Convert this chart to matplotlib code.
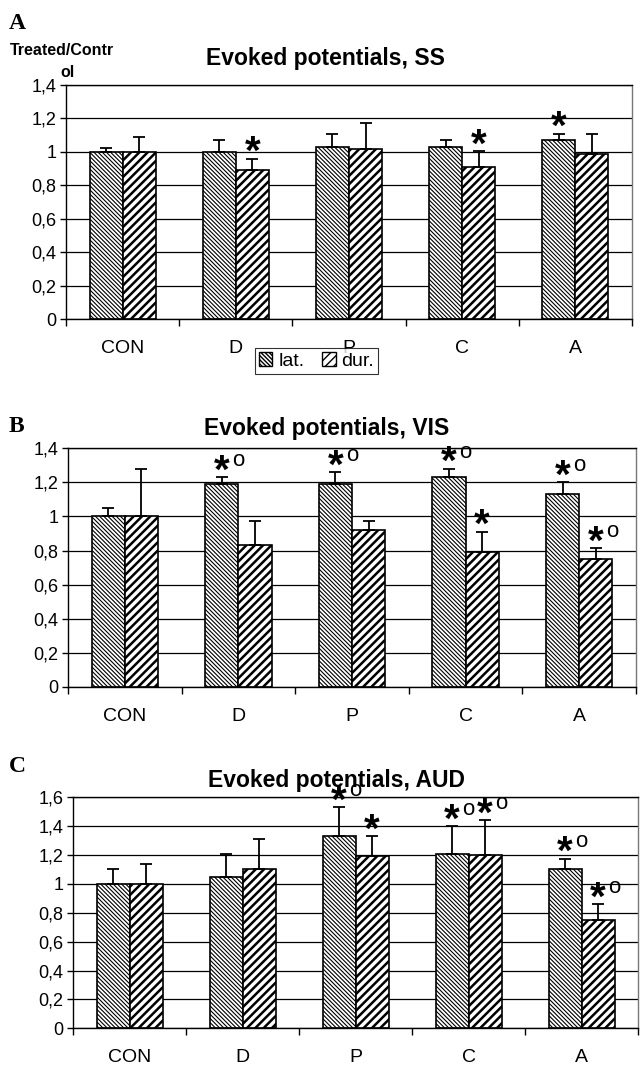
import matplotlib
matplotlib.use("Agg")
import numpy as np
import matplotlib.pyplot as plt
from matplotlib.patches import Patch
from matplotlib.ticker import FuncFormatter, FixedLocator

plt.rcParams["font.family"] = ["Liberation Sans", "DejaVu Sans"]

categories = ["CON", "D", "P", "C", "A"]

# panel A - SS
lat_ss = [1.00, 1.00, 1.03, 1.03, 1.07]
lat_ss_err = [0.025, 0.07, 0.08, 0.04, 0.04]
dur_ss = [1.00, 0.89, 1.02, 0.91, 0.99]
dur_ss_err = [0.09, 0.07, 0.15, 0.095, 0.12]
lat_ss_sig = ["", "", "", "", "*"]
dur_ss_sig = ["", "*", "", "*", ""]

# panel B - VIS
lat_vis = [1.00, 1.19, 1.19, 1.23, 1.13]
lat_vis_err = [0.05, 0.04, 0.07, 0.05, 0.07]
dur_vis = [1.00, 0.83, 0.92, 0.79, 0.75]
dur_vis_err = [0.28, 0.145, 0.055, 0.12, 0.065]
lat_vis_sig = ["", "*o", "*o", "*o", "*o"]
dur_vis_sig = ["", "", "", "*", "*o"]

# panel C - AUD
lat_aud = [1.00, 1.05, 1.33, 1.21, 1.10]
lat_aud_err = [0.10, 0.16, 0.20, 0.19, 0.075]
dur_aud = [1.00, 1.10, 1.19, 1.20, 0.75]
dur_aud_err = [0.14, 0.21, 0.14, 0.24, 0.11]
lat_aud_sig = ["", "", "*o", "*o", "*o"]
dur_aud_sig = ["", "", "*", "*o", "*o"]

LAT_HATCH = "\\" * 8
DUR_HATCH = "////"
BW = 0.292

fig = plt.figure(figsize=(6.4, 10.67), dpi=100)
fmt = FuncFormatter(lambda v, p: ("%g" % round(v, 2)).replace(".", ","))


def bars(ax, x, vals, hatch, hlw):
    with plt.rc_context({"hatch.linewidth": hlw, "hatch.color": "black"}):
        cont = ax.bar(x, vals, BW, color="white", edgecolor="black",
                      linewidth=1.2, hatch=hatch, zorder=2)
        for b in cont:
            if hasattr(b, "set_hatch_linewidth"):
                b.set_hatch_linewidth(hlw)
    return cont


def marks(ax, x, tops, sig):
    for xi, t, s in zip(x, tops, sig):
        if not s:
            continue
        ax.annotate("*", xy=(xi, t), xytext=(0, 4), textcoords="offset points",
                    ha="center", va="center", fontsize=29, fontweight="bold",
                    annotation_clip=False, zorder=5)
        if "o" in s:
            ax.annotate("o", xy=(xi, t), xytext=(12, 12), textcoords="offset points",
                        ha="center", va="center", fontsize=16,
                        annotation_clip=False, zorder=5)


def panel(rect, lat, lat_err, dur, dur_err, lat_sig, dur_sig, ymax):
    ax = fig.add_axes(rect)
    n = len(categories)
    xc = np.arange(n) + 0.5
    xl = xc - BW / 2
    xd = xc + BW / 2
    bars(ax, xl, lat, LAT_HATCH, 0.8)
    bars(ax, xd, dur, DUR_HATCH, 1.8)
    z = np.zeros(n)
    ax.errorbar(xl, lat, yerr=[z, lat_err], fmt="none", ecolor="black",
                elinewidth=1.3, capsize=4, capthick=1.3, zorder=3)
    ax.errorbar(xd, dur, yerr=[z, dur_err], fmt="none", ecolor="black",
                elinewidth=1.3, capsize=4, capthick=1.3, zorder=3)
    marks(ax, xl, np.array(lat) + np.array(lat_err), lat_sig)
    marks(ax, xd, np.array(dur) + np.array(dur_err), dur_sig)

    ax.set_xlim(0, n)
    ax.set_ylim(0, ymax)
    ax.set_yticks(np.arange(0, ymax + 0.01, 0.2))
    ax.yaxis.set_major_formatter(fmt)
    ax.yaxis.grid(True, color="black", linewidth=0.9)
    ax.set_axisbelow(True)
    ax.xaxis.set_major_locator(FixedLocator(np.arange(n + 1)))
    ax.xaxis.set_minor_locator(FixedLocator(xc))
    ax.set_xticklabels([])
    ax.set_xticklabels(categories, minor=True)
    ax.tick_params(axis="x", which="major", length=5, width=1, direction="out")
    ax.tick_params(axis="x", which="minor", length=0, pad=15, labelsize=14)
    ax.tick_params(axis="y", length=4, width=1, pad=3, labelsize=13)
    for s in ["left", "bottom", "top"]:
        ax.spines[s].set_linewidth(1)
        ax.spines[s].set_color("black")
    ax.spines["right"].set_color("#777777")
    ax.spines["right"].set_linewidth(1)
    return ax


panel([0.1031, 0.7010, 0.8844, 0.2193], lat_ss, lat_ss_err, dur_ss, dur_ss_err,
      lat_ss_sig, dur_ss_sig, 1.4)
panel([0.1063, 0.3564, 0.8875, 0.2234], lat_vis, lat_vis_err, dur_vis, dur_vis_err,
      lat_vis_sig, dur_vis_sig, 1.4)
panel([0.1141, 0.0363, 0.8828, 0.2165], lat_aud, lat_aud_err, dur_aud, dur_aud_err,
      lat_aud_sig, dur_aud_sig, 1.6)

tf = dict(ha="center", va="center", fontsize=16.5, fontweight="bold")
fig.text(325 / 640, 0.9456, "Evoked potentials, SS", **tf)
fig.text(327 / 640, 0.598, "Evoked potentials, VIS", **tf)
fig.text(336 / 640, 0.2685, "Evoked potentials, AUD", **tf)

lf = dict(ha="left", va="center", fontsize=17, fontweight="bold",
          family=["Liberation Serif", "DejaVu Serif"])
fig.text(0.014, 0.978, "A", **lf)
fig.text(0.014, 0.600, "B", **lf)
fig.text(0.014, 0.2815, "C", **lf)

fig.text(0.016, 0.953, "Treated/Contr", ha="left", va="center", fontsize=11.5,
         fontweight="bold")
fig.text(0.094, 0.932, "ol", ha="left", va="center", fontsize=11.5,
         fontweight="bold")

with plt.rc_context({"hatch.linewidth": 0.8}):
    h_lat = Patch(facecolor="white", edgecolor="black", hatch=LAT_HATCH, linewidth=1)
with plt.rc_context({"hatch.linewidth": 1.8}):
    h_dur = Patch(facecolor="white", edgecolor="black", hatch=DUR_HATCH, linewidth=1)
leg = fig.legend([h_lat, h_dur], ["lat.", "dur."], loc="center",
                 bbox_to_anchor=(0.4945, 0.6617), ncol=2, fontsize=14,
                 frameon=True, fancybox=False, handlelength=0.7,
                 handleheight=0.7, handletextpad=0.3, columnspacing=0.9,
                 borderpad=0.2, borderaxespad=0)
leg.get_frame().set_edgecolor("black")
leg.get_frame().set_linewidth(0.8)

fig.savefig("out.png", dpi=100, facecolor="white")
